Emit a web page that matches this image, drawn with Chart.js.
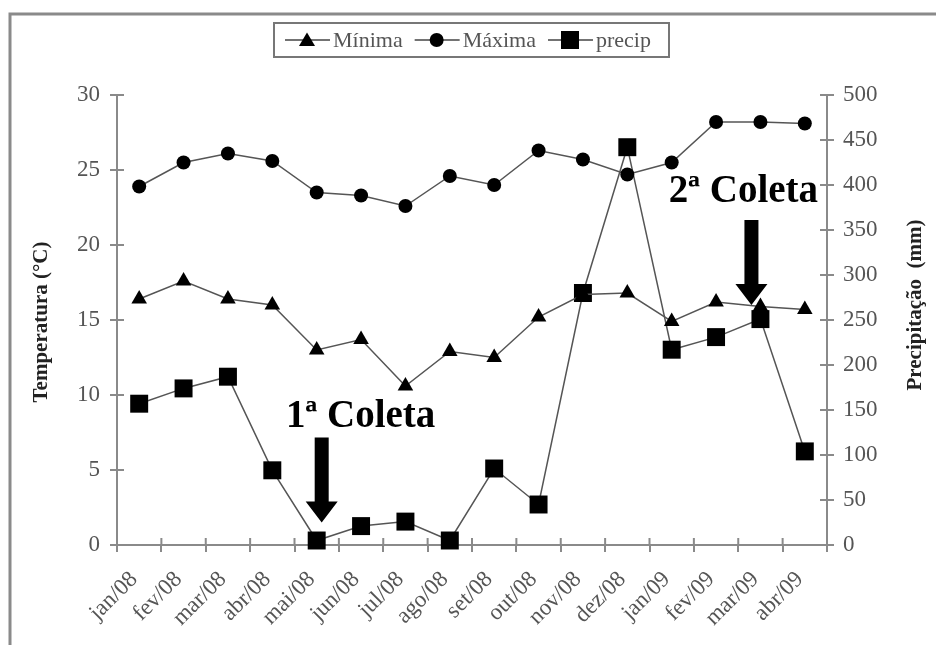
<!DOCTYPE html>
<html>
<head>
<meta charset="utf-8">
<script src="https://cdn.jsdelivr.net/npm/chart.js@4.4.1/dist/chart.umd.min.js"></script>
<style>
  html, body { margin: 0; padding: 0; background: #fff; }
  #wrap { width: 936px; height: 645px; }
</style>
</head>
<body>
<div id="wrap"><canvas id="chart" width="936" height="645"></canvas></div>
<script>
// Months (x categories)
const months = ["jan/08", "fev/08", "mar/08", "abr/08", "mai/08", "jun/08", "jul/08", "ago/08",
                "set/08", "out/08", "nov/08", "dez/08", "jan/09", "fev/09", "mar/09", "abr/09"];

// Temperatures (°C), left axis
const minima = [16.4, 17.6, 16.4, 16.0, 13.0, 13.7, 10.6, 12.9, 12.5, 15.2, 16.7, 16.8, 14.9, 16.2, 15.9, 15.7];
const maxima = [23.9, 25.5, 26.1, 25.6, 23.5, 23.3, 22.6, 24.6, 24.0, 26.3, 25.7, 24.7, 25.5, 28.2, 28.2, 28.1];

// Precipitation (mm), right axis
const precip = [157, 174, 187, 83, 5, 21, 26, 5, 85, 45, 280, 442, 217, 231, 251, 104];

// Axis ranges
const tempTicks = [0, 30, 5];
const rainTicks = [0, 500, 50];

// Collection markers: month index and temperature where the arrow points
const coletas = [
  { text: "1ª Coleta", month: 4, tip: 1.5, dx: 5, textDx: 39, gap: 11 },
  { text: "2ª Coleta", month: 14, tip: 16, dx: -9, textDx: -8, gap: 18 }
];

const SERIF = "'Liberation Serif', 'Times New Roman', serif";
const AXIS_GREY = "#8a8a8a";

function marker(ctx, style, x, y) {
  ctx.fillStyle = "#000";
  ctx.beginPath();
  if (style === "triangle") {
    ctx.moveTo(x, y - 7.5);
    ctx.lineTo(x + 8, y + 6);
    ctx.lineTo(x - 8, y + 6);
    ctx.closePath();
  } else if (style === "rect") {
    ctx.rect(x - 9, y - 9, 18, 18);
  } else {
    ctx.arc(x, y, 7, 0, Math.PI * 2);
  }
  ctx.fill();
}

const decor = {
  id: "decor",
  beforeDraw(chart) {
    const ctx = chart.ctx;
    ctx.save();
    ctx.fillStyle = "#fff";
    ctx.fillRect(0, 0, chart.width, chart.height);
    // outer frame (top and left visible)
    ctx.strokeStyle = AXIS_GREY;
    ctx.lineWidth = 3;
    ctx.beginPath();
    ctx.moveTo(10, chart.height);
    ctx.lineTo(10, 14);
    ctx.lineTo(chart.width, 14);
    ctx.stroke();
    ctx.restore();
  },
  afterDraw(chart) {
    const ctx = chart.ctx;
    const { x, y, y2 } = chart.scales;
    const area = chart.chartArea;
    ctx.save();

    // inner halves of the cross tick marks
    ctx.strokeStyle = AXIS_GREY;
    ctx.lineWidth = 2;
    ctx.beginPath();
    y.ticks.forEach(t => {
      const py = y.getPixelForValue(t.value);
      ctx.moveTo(area.left, py); ctx.lineTo(area.left + 7, py);
    });
    y2.ticks.forEach(t => {
      const py = y2.getPixelForValue(t.value);
      ctx.moveTo(area.right, py); ctx.lineTo(area.right - 7, py);
    });
    const half = (x.getPixelForValue(1) - x.getPixelForValue(0)) / 2;
    for (let i = 0; i <= months.length; i++) {
      const px = x.getPixelForValue(i) - half;
      ctx.moveTo(px, area.bottom); ctx.lineTo(px, area.bottom - 7);
    }
    ctx.stroke();

    // axis titles (both read bottom to top)
    ctx.fillStyle = "#222";
    ctx.font = "bold 21px " + SERIF;
    ctx.textAlign = "center";
    ctx.textBaseline = "middle";
    ctx.save();
    ctx.translate(42, 322);
    ctx.rotate(-Math.PI / 2);
    ctx.fillText("Temperatura (°C)", 0, 0);
    ctx.restore();
    ctx.save();
    ctx.translate(916, 305);
    ctx.rotate(-Math.PI / 2);
    ctx.fillText("Precipitação  (mm)", 0, 0);
    ctx.restore();

    // legend box
    ctx.strokeStyle = "#777";
    ctx.lineWidth = 2;
    ctx.strokeRect(274, 23, 395, 34);
    ctx.font = "22px " + SERIF;
    ctx.textAlign = "left";
    let lx = 285;
    chart.data.datasets.forEach(ds => {
      ctx.strokeStyle = "#444";
      ctx.lineWidth = 1.5;
      ctx.beginPath();
      ctx.moveTo(lx, 40); ctx.lineTo(lx + 45, 40);
      ctx.stroke();
      marker(ctx, ds.pointStyle, lx + 22, 40);
      ctx.fillStyle = "#555";
      ctx.fillText(ds.label, lx + 48, 41);
      lx += 48 + ctx.measureText(ds.label).width + 12;
    });

    // collection arrows and labels
    coletas.forEach(c => {
      const cx = x.getPixelForValue(c.month) + c.dx;
      const tip = y.getPixelForValue(c.tip);
      const headTop = tip - 21;
      const shaftTop = tip - 85;
      ctx.fillStyle = "#000";
      ctx.beginPath();
      ctx.moveTo(cx - 7, shaftTop);
      ctx.lineTo(cx + 7, shaftTop);
      ctx.lineTo(cx + 7, headTop);
      ctx.lineTo(cx + 16, headTop);
      ctx.lineTo(cx, tip);
      ctx.lineTo(cx - 16, headTop);
      ctx.lineTo(cx - 7, headTop);
      ctx.closePath();
      ctx.fill();
      ctx.font = "bold 39px " + SERIF;
      ctx.textAlign = "center";
      ctx.textBaseline = "alphabetic";
      ctx.fillText(c.text, cx + c.textDx, shaftTop - c.gap);
    });

    ctx.restore();
  }
};

const tickFont = { family: SERIF, size: 23 };

new Chart(document.getElementById("chart"), {
  type: "line",
  data: {
    labels: months,
    datasets: [
      { label: "Mínima", data: minima, yAxisID: "y", pointStyle: "triangle", pointRadius: 9 },
      { label: "Máxima", data: maxima, yAxisID: "y", pointStyle: "circle", pointRadius: 7 },
      { label: "precip", data: precip, yAxisID: "y2", pointStyle: "rect", pointRadius: 12.7 }
    ].map(ds => Object.assign(ds, {
      borderColor: "#555",
      borderWidth: 1.5,
      backgroundColor: "#000",
      pointBackgroundColor: "#000",
      pointBorderColor: "#000",
      pointBorderWidth: 0,
      tension: 0,
      clip: false
    }))
  },
  options: {
    responsive: false,
    animation: false,
    layout: { padding: { top: 95, left: 0, right: 0, bottom: 0 } },
    plugins: { legend: { display: false }, tooltip: { enabled: false } },
    scales: {
      x: {
        offset: true,
        afterFit: s => { s.height = 100; },
        grid: { offset: true, drawOnChartArea: false, tickLength: 7, color: AXIS_GREY, lineWidth: 2 },
        border: { color: AXIS_GREY, width: 2 },
        ticks: { font: tickFont, color: "#555", maxRotation: 45, minRotation: 45, padding: 14, labelOffset: -5, autoSkip: false }
      },
      y: {
        position: "left",
        min: tempTicks[0], max: tempTicks[1],
        afterFit: s => { s.width = 117; },
        grid: { drawOnChartArea: false, tickLength: 7, color: AXIS_GREY, lineWidth: 2 },
        border: { color: AXIS_GREY, width: 2 },
        ticks: { stepSize: tempTicks[2], font: tickFont, color: "#555", padding: 10 }
      },
      y2: {
        position: "right",
        min: rainTicks[0], max: rainTicks[1],
        afterFit: s => { s.width = 109; },
        grid: { drawOnChartArea: false, tickLength: 7, color: AXIS_GREY, lineWidth: 2 },
        border: { color: AXIS_GREY, width: 2 },
        ticks: { stepSize: rainTicks[2], font: tickFont, color: "#555", padding: 9 }
      }
    }
  },
  plugins: [decor]
});
</script>
</body>
</html>
